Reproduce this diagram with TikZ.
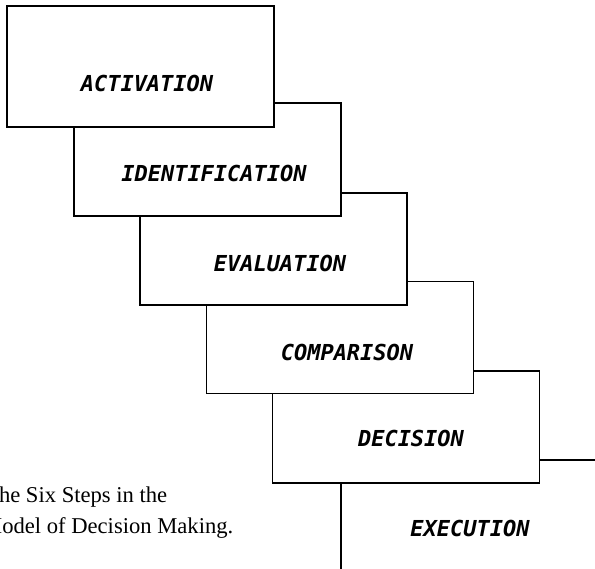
\documentclass[tikz,border=0pt]{standalone}
\usepackage{fontspec}
\setmainfont{Liberation Serif}
\newfontfamily\plotfont{DejaVu Sans Mono}
\begin{document}
\begin{tikzpicture}[x=1pt, y=-1pt,
        stepbox/.style={rectangle, draw=black, fill=white, line width=1.7pt, minimum width=267pt, minimum height=112pt, inner sep=0pt},
        steptext/.style={font=\plotfont\bfseries\itshape\fontsize{22}{24}\selectfont, inner sep=0pt},
        capline/.style={font=\fontsize{22.6}{26}\selectfont, anchor=base west, inner sep=0pt}
    ]
        \useasboundingbox (0,0) rectangle (595,569);
        \clip (0,0) rectangle (595,569);

        % steps, drawn from the back to the front
        \node[stepbox] (exe) at (474.5,516) {};
        \node[stepbox] (dec) at (406,427) {};
        \node[stepbox] (com) at (340,337.5) {};
        \node[stepbox] (eva) at (273.5,249) {};
        \node[stepbox, minimum height=113pt] (ide) at (207.5,159.5) {};
        \node[stepbox, minimum height=121pt] (act) at (140.5,66.5) {};

        % step names
        \node[steptext] (actt) at (147,83) {ACTIVATION};
        \node[steptext] (idet) at (214,173) {IDENTIFICATION};
        \node[steptext] (evat) at (280,263) {EVALUATION};
        \node[steptext] (comt) at (347,352) {COMPARISON};
        \node[steptext] (dect) at (411,438) {DECISION};
        \node[steptext] (exet) at (470,528) {EXECUTION};

        % caption, cut at the left edge
        \node[capline] (cap1) at (-15,502) {The Six Steps in the};
        \node[capline] (cap2) at (-18,533) {Model of Decision Making.};
    \end{tikzpicture}
\end{document}
